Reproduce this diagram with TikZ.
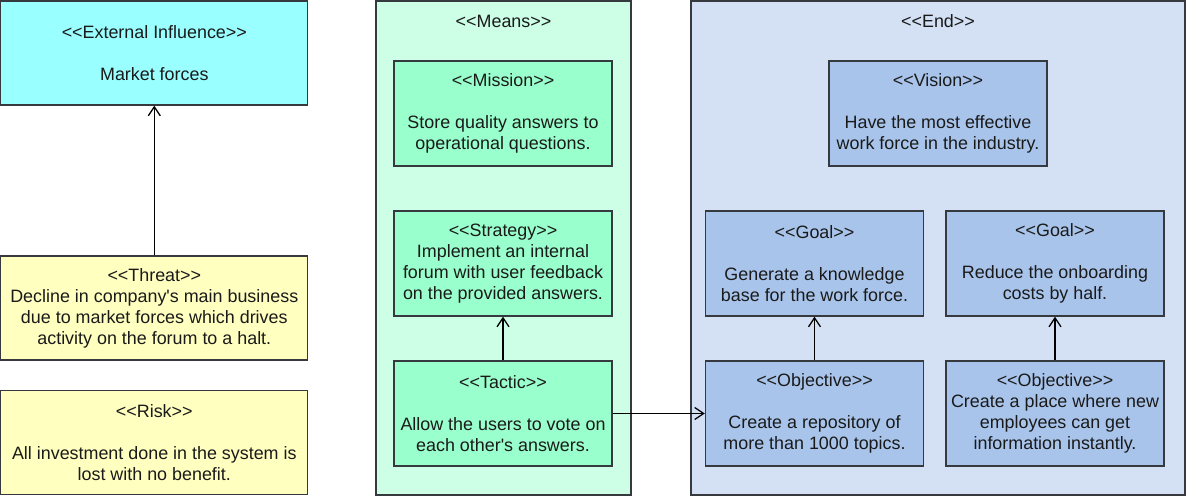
\documentclass[tikz,border=0pt]{standalone}
\usepackage{fontspec}
\setmainfont{Liberation Sans}[Ligatures=TeXOff]
\usetikzlibrary{arrows.meta}
\definecolor{cyanfill}{HTML}{99FFFF}
\definecolor{yelfill}{HTML}{FFFFC0}
\definecolor{meansbg}{HTML}{CCFFE6}
\definecolor{meansin}{HTML}{99FFCC}
\definecolor{endbg}{HTML}{D4E1F5}
\definecolor{endin}{HTML}{A9C4EB}
\definecolor{edge}{HTML}{36393D}
\definecolor{txt}{HTML}{1A1A1A}
\tikzset{
  box/.style={draw=edge, line width=1.3pt, inner sep=0pt, align=center, text=txt,
    font=\fontsize{17.9}{21}\selectfont},
  bigbox/.style={box, minimum width=307pt, minimum height=104pt},
  smallbox/.style={box, minimum width=218pt, minimum height=105pt},
  container/.style={draw=edge, line width=1.3pt, inner sep=0pt},
  lbl/.style={inner sep=0pt, text=txt, font=\fontsize{17.9}{21}\selectfont},
  conn/.style={draw=black, line width=1.3pt, -{Straight Barb[length=9pt,width=12pt,line width=1.3pt]}},
}
\begin{document}
\begin{tikzpicture}[x=1pt,y=-1pt]
\useasboundingbox (0,0) rectangle (1187,497);
% containers
\node[container, fill=meansbg, minimum width=255pt, minimum height=494pt] (means) at (503.5,248) {};
\node[container, fill=endbg, minimum width=494pt, minimum height=494pt] (end) at (938,248) {};
\node[lbl] (meanslbl) at (503.5,21.5) {<<Means>>};
\node[lbl] (endlbl) at (938,21.5) {<<End>>};
% left column
\node[bigbox, fill=cyanfill] (ext) at (154.3,53) {<<External Influence>>\\ \mbox{}\\ Market forces};
\node[bigbox, fill=yelfill] (threat) at (154.3,308) {<<Threat>>\\ Decline in company's main business\\ due to market forces which drives\\ activity on the forum to a halt.};
\node[bigbox, fill=yelfill] (risk) at (154.3,442.5) {<<Risk>>\\ \mbox{}\\ All investment done in the system is\\ lost with no benefit.};
% means
\node[smallbox, fill=meansin] (mission) at (503,113.5) {<<Mission>>\\ \mbox{}\\ Store quality answers to\\ operational questions.};
\node[smallbox, fill=meansin] (strategy) at (503,263.5) {<<Strategy>>\\ Implement an internal\\ forum with user feedback\\ on the provided answers.};
\node[smallbox, fill=meansin] (tactic) at (503,413.5) {<<Tactic>>\\ \mbox{}\\ Allow the users to vote on\\ each other's answers.};
% end
\node[smallbox, fill=endin] (vision) at (938,113.5) {<<Vision>>\\ \mbox{}\\ Have the most effective\\ work force in the industry.};
\node[smallbox, fill=endin] (goal1) at (814.5,263.5) {<<Goal>>\\ \mbox{}\\ Generate a knowledge\\ base for the work force.};
\node[smallbox, fill=endin] (goal2) at (1055,263.5) {<<Goal>>\\ \mbox{}\\ Reduce the onboarding\\ costs by half.};
\node[smallbox, fill=endin] (obj1) at (814.5,413.5) {<<Objective>>\\ \mbox{}\\ Create a repository of\\ more than 1000 topics.};
\node[smallbox, fill=endin] (obj2) at (1055,413.5) {<<Objective>>\\ Create a place where new\\ employees can get\\ information instantly.};
% connectors
\draw[conn] (threat) -- (ext);
\draw[conn] (tactic) -- (strategy);
\draw[conn] (obj1) -- (goal1);
\draw[conn] (obj2) -- (goal2);
\draw[conn] (tactic) -- (obj1);
\end{tikzpicture}
\end{document}
